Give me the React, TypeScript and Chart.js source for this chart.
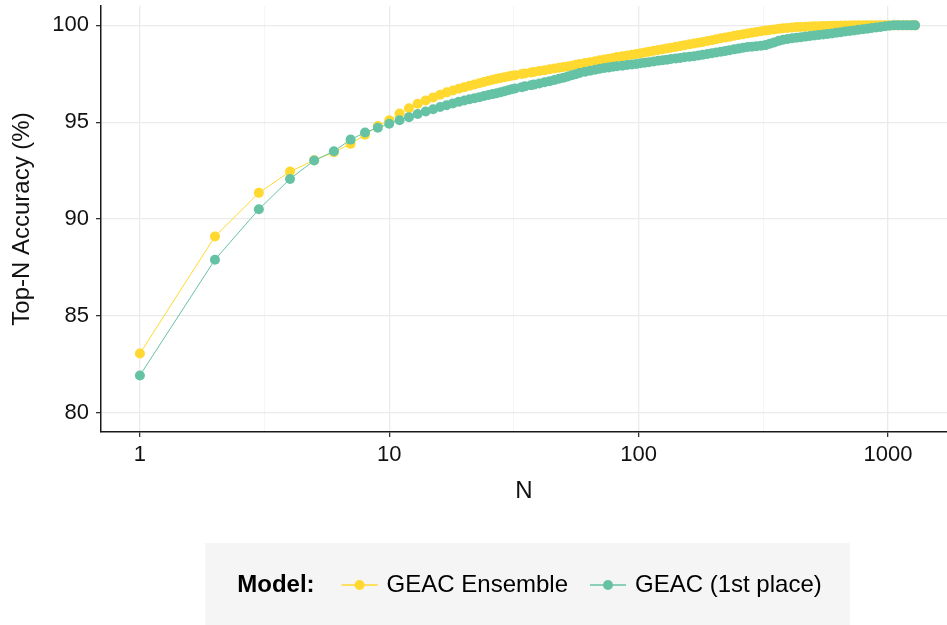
import React, { useEffect, useRef } from "react";
import { Chart, registerables } from "chart.js";

Chart.register(...registerables);

const FONT = '"Liberation Sans", Arial, Helvetica, sans-serif';
const FS_TICK = 22;
const FS = 24;

const SERIES_NAMES = ["GEAC Ensemble", "GEAC (1st place)"];
const SERIES_COLORS = ["#FFD92F", "#66C2A5"];
const LEGEND_TITLE = "Model:";
const X_TITLE = "N";
const Y_TITLE = "Top-N Accuracy (%)";

const X_MAJOR = [1, 10, 100, 1000];
const X_MINOR = [3.1623, 31.623, 316.23];
const Y_TICKS = [80, 85, 90, 95, 100];

const N_VALUES = [
  1, 2, 3, 4, 5, 6, 7, 8, 9, 10, 11, 12, 13, 14, 15, 16, 17, 18, 19, 20, 21, 22, 23, 24, 25,
  26, 27, 28, 29, 30, 31, 32,
  34, 35, 37, 38, 40, 42, 44, 46, 48, 50,
  52, 54, 56, 58, 61, 64, 67, 70, 73, 76,
  79, 82, 86, 90, 94, 98, 102, 106, 110, 115,
  120, 125, 130, 135, 141, 147, 153, 160, 167, 174,
  181, 189, 197, 205, 214, 223, 232, 242, 252, 263,
  274, 285, 297, 310, 323, 336, 350, 365, 380, 396,
  413, 430, 448, 467, 487, 507, 528, 550, 573, 597,
  622, 648, 675, 703, 732, 763, 795, 828, 862, 898,
  935, 974, 1015, 1057, 1101, 1147, 1195, 1245, 1285,
];

const ENSEMBLE = [
  83.05, 89.1, 91.35, 92.45, 93.03, 93.45, 93.88, 94.35, 94.8, 95.1, 95.45, 95.72, 95.95, 96.12, 96.28, 96.42, 96.54, 96.64, 96.73, 96.81, 96.88, 96.95, 97.01, 97.08, 97.14,
  97.19, 97.24, 97.28, 97.32, 97.36, 97.4, 97.43,
  97.49, 97.52, 97.57, 97.59, 97.64, 97.68, 97.73, 97.77, 97.81, 97.85,
  97.88, 97.92, 97.96, 98.0, 98.05, 98.1, 98.15, 98.2, 98.24, 98.28,
  98.32, 98.36, 98.4, 98.44, 98.48, 98.52, 98.56, 98.6, 98.64, 98.69,
  98.73, 98.77, 98.81, 98.85, 98.89, 98.93, 98.97, 99.02, 99.06, 99.1,
  99.14, 99.19, 99.23, 99.28, 99.33, 99.37, 99.41, 99.46, 99.5, 99.54,
  99.58, 99.62, 99.66, 99.7, 99.73, 99.76, 99.79, 99.82, 99.85, 99.87,
  99.89, 99.91, 99.92, 99.93, 99.94, 99.95, 99.96, 99.97, 99.97, 99.98,
  99.98, 99.99, 99.99, 99.99, 100, 100, 100, 100, 100, 100,
  100, 100, 100, 100, 100, 100, 100, 100, 100,
];

const FIRST_PLACE = [
  81.92, 87.9, 90.5, 92.07, 93.02, 93.5, 94.1, 94.47, 94.71, 94.92, 95.1, 95.26, 95.42, 95.55, 95.67, 95.78, 95.88, 95.97, 96.05, 96.12, 96.18, 96.24, 96.29, 96.35, 96.4,
  96.45, 96.5, 96.55, 96.6, 96.65, 96.7, 96.74,
  96.81, 96.85, 96.91, 96.94, 97.0, 97.06, 97.12, 97.18, 97.24, 97.3,
  97.36, 97.42, 97.48, 97.54, 97.6, 97.66, 97.71, 97.76, 97.8, 97.83,
  97.86, 97.89, 97.92, 97.95, 97.98, 98.01, 98.04, 98.07, 98.1, 98.14,
  98.17, 98.2, 98.23, 98.26, 98.29, 98.32, 98.35, 98.38, 98.41, 98.44,
  98.48, 98.52, 98.56, 98.6, 98.64, 98.68, 98.72, 98.76, 98.8, 98.85,
  98.88, 98.9, 98.92, 98.95, 98.98, 99.05, 99.12, 99.2, 99.26, 99.3,
  99.33, 99.36, 99.39, 99.42, 99.45, 99.48, 99.5, 99.53, 99.55, 99.58,
  99.62, 99.65, 99.68, 99.71, 99.74, 99.77, 99.8, 99.83, 99.86, 99.89,
  99.92, 99.95, 99.98, 100, 100, 100, 100, 100, 100,
];

const W = 947;
const H = 625;

const isMajor = (v: number) => X_MAJOR.some((m) => Math.abs(m - v) < 1e-6);

const legendPlugin = {
  id: "ggLegend",
  afterDraw(chart: any) {
    const ctx = chart.ctx as CanvasRenderingContext2D;
    ctx.save();
    const cy = 585;
    const glyphW = 36;
    const gapTitle = 27;
    const gapGlyph = 9;
    const gapItem = 22;
    ctx.font = `bold ${FS}px ${FONT}`;
    const titleW = ctx.measureText(LEGEND_TITLE).width;
    ctx.font = `${FS}px ${FONT}`;
    const w = SERIES_NAMES.map((s) => ctx.measureText(s).width);
    const contentW =
      titleW + gapTitle + w.reduce((a, b) => a + b, 0) + SERIES_NAMES.length * (glyphW + gapGlyph) + gapItem * (SERIES_NAMES.length - 1);
    const startX = 529.5 - contentW / 2;
    const boxL = startX - 32;
    const boxR = startX + contentW + 28;
    ctx.fillStyle = "#F5F5F5";
    ctx.fillRect(boxL, 543, boxR - boxL, H - 543);

    ctx.textBaseline = "middle";
    ctx.textAlign = "left";
    ctx.fillStyle = "#000";
    ctx.font = `bold ${FS}px ${FONT}`;
    ctx.fillText(LEGEND_TITLE, startX, cy);
    let x = startX + titleW + gapTitle;
    ctx.font = `${FS}px ${FONT}`;
    SERIES_NAMES.forEach((name, i) => {
      ctx.strokeStyle = SERIES_COLORS[i];
      ctx.lineWidth = 1.5;
      ctx.beginPath();
      ctx.moveTo(x, cy);
      ctx.lineTo(x + glyphW, cy);
      ctx.stroke();
      ctx.fillStyle = SERIES_COLORS[i];
      ctx.beginPath();
      ctx.arc(x + glyphW / 2, cy, 5, 0, Math.PI * 2);
      ctx.fill();
      x += glyphW + gapGlyph;
      ctx.fillStyle = "#000";
      ctx.fillText(name, x, cy);
      x += w[i] + gapItem;
    });
    ctx.restore();
  },
};

export default function App() {
  const ref = useRef<HTMLCanvasElement | null>(null);

  useEffect(() => {
    if (!ref.current) return;
    const datasets = [ENSEMBLE, FIRST_PLACE].map((vals, i) => ({
      label: SERIES_NAMES[i],
      data: N_VALUES.map((n, k) => ({ x: n, y: vals[k] })),
      borderColor: SERIES_COLORS[i],
      backgroundColor: SERIES_COLORS[i],
      pointBackgroundColor: SERIES_COLORS[i],
      pointBorderWidth: 0,
      pointRadius: 5,
      pointHoverRadius: 5,
      borderWidth: 1,
      tension: 0,
      order: i === 0 ? 2 : 1,
    }));

    const chart = new Chart(ref.current, {
      type: "line",
      data: { datasets },
      plugins: [legendPlugin],
      options: {
        animation: false,
        responsive: false,
        layout: { autoPadding: false, padding: { top: 6, right: 0, left: 0, bottom: H - 512 } },
        plugins: { legend: { display: false }, tooltip: { enabled: false } },
        scales: {
          x: {
            type: "logarithmic",
            min: Math.pow(10, -0.156),
            max: Math.pow(10, 3.237),
            afterBuildTicks: (scale: any) => {
              scale.ticks = [...X_MAJOR, ...X_MINOR].sort((a, b) => a - b).map((v) => ({ value: v }));
            },
            afterFit: (scale: any) => {
              scale.height = 80;
              scale.paddingLeft = 0;
              scale.paddingRight = 0;
            },
            ticks: {
              autoSkip: false,
              maxRotation: 0,
              padding: 5,
              color: "#111",
              font: { family: FONT, size: FS_TICK },
              callback: (v: any) => (isMajor(Number(v)) ? String(Number(v)) : ""),
            },
            grid: {
              color: (c: any) => (isMajor(c.tick?.value) ? "#EBEBEB" : "#F3F3F3"),
              lineWidth: (c: any) => (isMajor(c.tick?.value) ? 1.3 : 0.8),
              tickColor: (c: any) => (isMajor(c.tick?.value) ? "#333" : "rgba(0,0,0,0)"),
              tickLength: 5,
              tickWidth: 1.3,
              drawTicks: true,
            },
            border: { display: true, color: "#1a1a1a", width: 1.5 },
            title: {
              display: true,
              text: X_TITLE,
              color: "#111",
              font: { family: FONT, size: FS },
              padding: { top: 0, bottom: 6 },
            },
          },
          y: {
            type: "linear",
            min: 79,
            max: 101,
            afterBuildTicks: (scale: any) => {
              scale.ticks = Y_TICKS.map((v) => ({ value: v }));
            },
            afterFit: (scale: any) => {
              scale.width = 101;
              scale.paddingTop = 0;
              scale.paddingBottom = 0;
            },
            ticks: {
              padding: 7,
              color: "#111",
              font: { family: FONT, size: FS_TICK },
            },
            grid: {
              color: "#EBEBEB",
              lineWidth: 1.3,
              tickColor: "#333",
              tickLength: 5,
              tickWidth: 1.3,
            },
            border: { display: true, color: "#1a1a1a", width: 1.5 },
            title: {
              display: true,
              text: Y_TITLE,
              color: "#111",
              font: { family: FONT, size: FS },
              padding: { top: 8, bottom: 0 },
            },
          },
        },
      },
    } as any);
    return () => chart.destroy();
  }, []);

  return (
    <div style={{ position: "absolute", left: 0, top: 0, width: W, height: H, background: "#fff" }}>
      <canvas ref={ref} width={W} height={H} style={{ width: W, height: H, display: "block" }} />
    </div>
  );
}
